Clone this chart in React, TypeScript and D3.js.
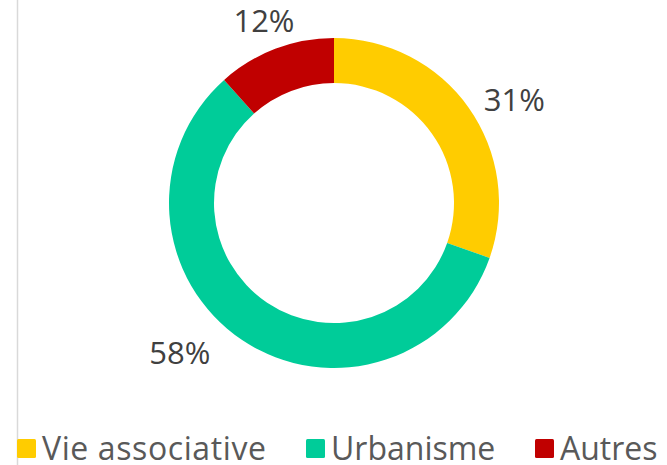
import React, { useEffect, useRef } from 'react'
import * as d3 from 'd3'

// chart data
const categories = ['Vie associative', 'Urbanisme', 'Autres']
const shares = [30.4, 58.0, 11.6]
const labels = ['31%', '58%', '12%']
const colors = ['#FFCC00', '#00CC99', '#C00000']

// nudges applied to the label centroids (Excel "best fit" placement)
const labelNudge: [number, number][] = [[13, 15], [-40, -20], [3, 9]]

const WIDTH = 667
const HEIGHT = 465

export default function App() {
  const node = useRef<SVGSVGElement | null>(null)

  useEffect(() => {
    const svg = d3.select(node.current)
    svg.selectAll('*').remove()

    const cx = 334, cy = 203
    const outer = 165, inner = 120

    // light vertical rule on the left
    svg.append('line')
      .attr('x1', 17.5).attr('x2', 17.5)
      .attr('y1', 0).attr('y2', HEIGHT)
      .attr('stroke', '#d9d9d9')
      .attr('stroke-width', 1.5)

    const pie = d3.pie<number>().sort(null).value(d => d)
    const arcs = pie(shares)
    const arc = d3.arc<d3.PieArcDatum<number>>().innerRadius(inner).outerRadius(outer)
    const labelArc = d3.arc<d3.PieArcDatum<number>>().innerRadius(205).outerRadius(205)

    const g = svg.append('g').attr('transform', `translate(${cx},${cy})`)

    g.selectAll('path.slice')
      .data(arcs)
      .enter().append('path')
      .attr('class', 'slice')
      .attr('d', arc)
      .attr('fill', (d, i) => colors[i])

    g.selectAll('text.lbl')
      .data(arcs)
      .enter().append('text')
      .attr('class', 'lbl')
      .attr('transform', (d, i) => {
        const [x, y] = labelArc.centroid(d)
        return `translate(${x + labelNudge[i][0]},${y + labelNudge[i][1]})`
      })
      .attr('text-anchor', 'middle')
      .attr('dy', '0.36em')
      .attr('font-family', '"Open Sans", sans-serif')
      .attr('font-size', 31)
      .attr('fill', '#404040')
      .text((d, i) => labels[i])

    // legend
    const legendX = [17, 306, 535]
    const legend = svg.append('g').attr('transform', 'translate(0,439)')
    const item = legend.selectAll('g.item')
      .data(categories)
      .enter().append('g')
      .attr('class', 'item')
      .attr('transform', (d, i) => `translate(${legendX[i]},0)`)
    item.append('rect')
      .attr('width', 19).attr('height', 19)
      .attr('rx', 1.5)
      .attr('fill', (d, i) => colors[i])
    item.append('text')
      .attr('x', 25)
      .attr('y', 21)
      .attr('font-family', '"Open Sans", sans-serif')
      .attr('font-size', 32)
      .attr('letter-spacing', (d, i) => (i === 0 ? 0.6 : 0))
      .attr('fill', '#595959')
      .text(d => d)
  }, [])

  return (
    <svg ref={node} width={WIDTH} height={HEIGHT}
      style={{ position: 'absolute', left: 0, top: 0, background: '#fff' }} />
  )
}
